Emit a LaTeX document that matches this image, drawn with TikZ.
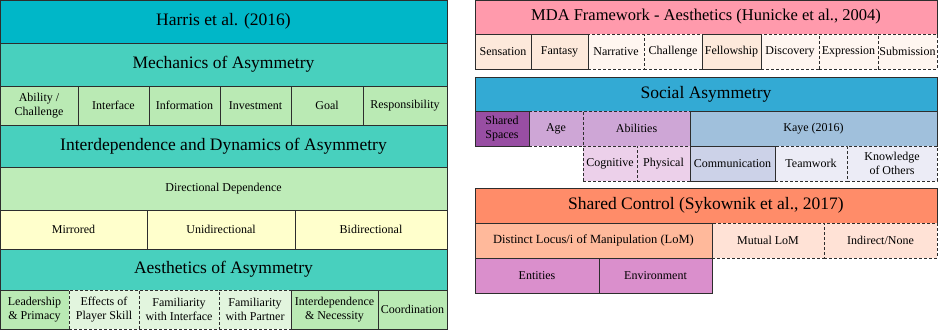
\documentclass[tikz,border=0pt]{standalone}
\usepackage{fontspec}
\setmainfont{Liberation Serif}
\usetikzlibrary{positioning}

\definecolor{harristeal}{RGB}{0,183,200}
\definecolor{mechteal}{RGB}{72,208,190}
\definecolor{itemgreen}{RGB}{186,234,180}
\definecolor{dirgreen}{RGB}{190,236,184}
\definecolor{paleyellow}{RGB}{255,255,204}
\definecolor{palegreen}{RGB}{226,245,222}
\definecolor{mdapink}{RGB}{255,154,172}
\definecolor{peach}{RGB}{253,233,219}
\definecolor{palepeach}{RGB}{255,246,240}
\definecolor{socialblue}{RGB}{51,170,212}
\definecolor{darkpurple}{RGB}{152,78,163}
\definecolor{lilac}{RGB}{206,166,214}
\definecolor{palelilac}{RGB}{236,208,234}
\definecolor{kayeblue}{RGB}{160,192,220}
\definecolor{commblue}{RGB}{204,210,232}
\definecolor{paleblue}{RGB}{236,236,246}
\definecolor{salmon}{RGB}{255,140,105}
\definecolor{lightsalmon}{RGB}{255,185,155}
\definecolor{palesalmon}{RGB}{255,226,214}
\definecolor{orchidpink}{RGB}{218,143,204}
\definecolor{edgegray}{RGB}{45,45,45}

\begin{document}
\begin{tikzpicture}[x=1pt,y=-1pt,
    cell/.style={draw=edgegray,line width=0.8pt,inner sep=0pt,outer sep=0pt,
        anchor=north west,align=center,font=\fontsize{12}{13.5}\selectfont},
    head/.style={cell,font=\fontsize{17.5}{20}\selectfont},
    dashcell/.style={cell,dash pattern=on 3pt off 2pt},
    w/.style={minimum width=#1},
    h/.style={minimum height=#1}]
        \useasboundingbox (0,0) rectangle (938,330);
        % Harris et al.
            \node[head,fill=harristeal,w=447,h=43] (harris) at (0,0) {Harris et al. (2016)};
            \node[head,fill=mechteal,w=447,h=43] (mech) at (0,43) {Mechanics of Asymmetry};
            % Mechanics items
                \node[cell,fill=itemgreen,w=78,h=39] (ability) at (0,86) {Ability /\\Challenge};
                \node[cell,fill=itemgreen,w=71,h=39] (interface) at (78,86) {Interface};
                \node[cell,fill=itemgreen,w=71,h=39] (information) at (149,86) {Information};
                \node[cell,fill=itemgreen,w=71,h=39] (investment) at (220,86) {Investment};
                \node[cell,fill=itemgreen,w=72,h=39] (goal) at (291,86) {Goal};
                \node[cell,fill=itemgreen,w=84,h=39] (responsibility) at (363,86) {Responsibility};
            \node[head,fill=mechteal,w=447,h=42] (interdep) at (0,125) {Interdependence and Dynamics of Asymmetry};
            \node[cell,fill=dirgreen,w=447,h=43] (dirdep) at (0,167) {Directional Dependence};
            % Directions
                \node[cell,fill=paleyellow,w=147,h=39] (mirrored) at (0,210) {Mirrored};
                \node[cell,fill=paleyellow,w=148,h=39] (unidir) at (147,210) {Unidirectional};
                \node[cell,fill=paleyellow,w=152,h=39] (bidir) at (295,210) {Bidirectional};
            \node[head,fill=mechteal,w=447,h=41] (aesth) at (0,249) {Aesthetics of Asymmetry};
            % Aesthetics items
                \node[cell,fill=itemgreen,w=69,h=39] (leadership) at (0,290) {Leadership\\\& Primacy};
                \node[cell,fill=itemgreen,w=87,h=39] (interdepnec) at (291,290) {Interdependence\\\& Necessity};
                \node[cell,fill=itemgreen,w=69,h=39] (coordination) at (378,290) {Coordination};
                \node[dashcell,fill=palegreen,w=70,h=39] (skill) at (69,290) {Effects of\\Player Skill};
                \node[dashcell,fill=palegreen,w=80,h=39] (faminterface) at (139,290) {Familiarity\\with Interface};
                \node[dashcell,fill=palegreen,w=72,h=39] (fampartner) at (219,290) {Familiarity\\with Partner};
        % MDA Framework
            \node[head,fill=mdapink,w=462,h=34,font=\fontsize{16.5}{19}\selectfont] (mda) at (475,0) {MDA Framework - Aesthetics (Hunicke et al., 2004)};
            \node[dashcell,fill=palepeach,w=56,h=35] (narrative) at (588,34) {Narrative};
            \node[dashcell,fill=palepeach,w=58,h=35] (challenge) at (644,34) {Challenge};
            \node[dashcell,fill=palepeach,w=58,h=35] (discovery) at (761,34) {Discovery};
            \node[dashcell,fill=palepeach,w=59,h=35] (expression) at (819,34) {Expression};
            \node[dashcell,fill=palepeach,w=59,h=35] (submission) at (878,34) {Submission};
            \node[cell,fill=peach,w=56,h=35] (sensation) at (475,34) {Sensation};
            \node[cell,fill=peach,w=57,h=35] (fantasy) at (531,34) {Fantasy};
            \node[cell,fill=peach,w=59,h=35] (fellowship) at (702,34) {Fellowship};
        % Social Asymmetry
            \node[head,fill=socialblue,w=462,h=34] (social) at (475,77) {Social Asymmetry};
            \node[dashcell,fill=lilac,w=54,h=35] (age) at (529,111) {Age};
            \node[dashcell,fill=lilac,w=107,h=35] (abilities) at (583,111) {Abilities};
            \node[cell,fill=darkpurple,w=54,h=35] (sharedspaces) at (475,111) {Shared\\Spaces};
            \node[cell,fill=kayeblue,w=247,h=35] (kaye) at (690,111) {Kaye (2016)};
            % Sub-items
                \node[dashcell,fill=palelilac,w=54,h=35] (cognitive) at (583,146) {Cognitive};
                \node[dashcell,fill=palelilac,w=53,h=35] (physical) at (637,146) {Physical};
                \node[dashcell,fill=paleblue,w=72,h=35] (teamwork) at (775,146) {Teamwork};
                \node[dashcell,fill=paleblue,w=90,h=35] (knowledge) at (847,146) {Knowledge\\of Others};
                \node[cell,fill=commblue,w=85,h=35] (communication) at (690,146) {Communication};
        % Shared Control
            \node[head,fill=salmon,w=462,h=35] (control) at (475,188) {Shared Control (Sykownik et al., 2017)};
            \node[dashcell,fill=palesalmon,w=112,h=35] (mutual) at (712,223) {Mutual LoM};
            \node[dashcell,fill=palesalmon,w=113,h=35] (indirect) at (824,223) {Indirect/None};
            \node[cell,fill=lightsalmon,w=237,h=35,font=\fontsize{12.5}{14}\selectfont] (distinct) at (475,223) {Distinct Locus/i of Manipulation (LoM)};
            \node[cell,fill=orchidpink,w=124,h=35] (entities) at (475,258) {Entities};
            \node[cell,fill=orchidpink,w=113,h=35] (environment) at (599,258) {Environment};
    \end{tikzpicture}
\end{document}
